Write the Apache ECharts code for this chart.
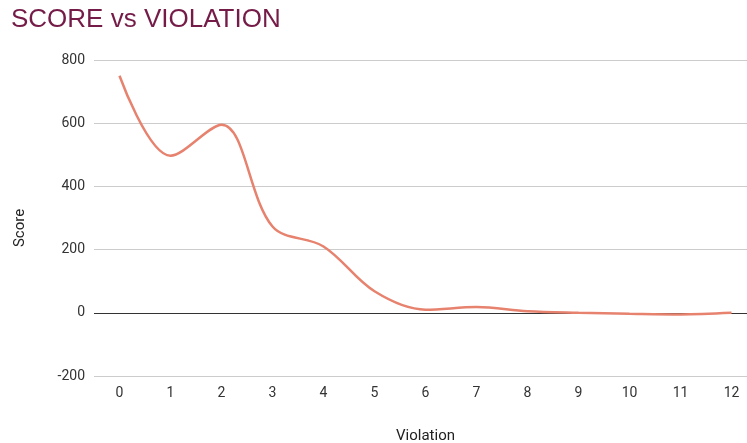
<!DOCTYPE html>
<html><head><meta charset="utf-8">
<script src="https://cdn.jsdelivr.net/npm/echarts@6/dist/echarts.min.js"></script>
<style>html,body{margin:0;padding:0;background:#fff}#c{width:747px;height:443px}</style>
</head><body><div id="c"></div>
<script>
const categories = ['0','1','2','3','4','5','6','7','8','9','10','11','12'];
const scores = [750, 497, 595, 273, 210, 68, 10, 18, 5, 0, -3, -5, 0];
const yTicks = { min: -200, max: 800, interval: 200 };

const chart = echarts.init(document.getElementById('c'));
chart.setOption({
  animation: false,
  title: {
    text: 'SCORE vs VIOLATION', left: 6, top: 2,
    textStyle: { fontFamily: 'Liberation Sans, Arial', fontSize: 26, fontWeight: 'normal', color: '#741b47' }
  },
  grid: { left: 94, top: 60, width: 663, height: 316, containLabel: false, outerBoundsMode: 'none' },
  xAxis: {
    type: 'category', data: categories, boundaryGap: true,
    name: 'Violation', nameLocation: 'middle', nameGap: 53,
    nameTextStyle: { fontFamily: 'Roboto', fontSize: 15, color: '#222' },
    axisLine: { show: false }, axisTick: { show: false },
    axisLabel: { fontFamily: 'Roboto', fontSize: 14, color: '#333', margin: 10 }
  },
  yAxis: {
    type: 'value', min: yTicks.min, max: yTicks.max, interval: yTicks.interval,
    name: 'Score', nameLocation: 'middle', nameGap: 66, nameRotate: 90,
    nameTextStyle: { fontFamily: 'Roboto', fontSize: 15, color: '#222', padding: [0, 20, 0, 0] },
    axisLine: { show: false }, axisTick: { show: false },
    axisLabel: { fontFamily: 'Roboto', fontSize: 14, color: '#333', margin: 9 },
    splitLine: { lineStyle: { color: '#cccccc', width: 1 } }
  },
  series: [{
    type: 'line', data: scores, smooth: 0.35, symbol: 'none',
    lineStyle: { color: '#e6826e', width: 2.5 },
    markLine: {
      silent: true, symbol: 'none', label: { show: false },
      lineStyle: { color: '#333', type: 'solid', width: 1 },
      data: [{ yAxis: 0 }], z: 1
    },
    z: 3
  }]
});
</script></body></html>
